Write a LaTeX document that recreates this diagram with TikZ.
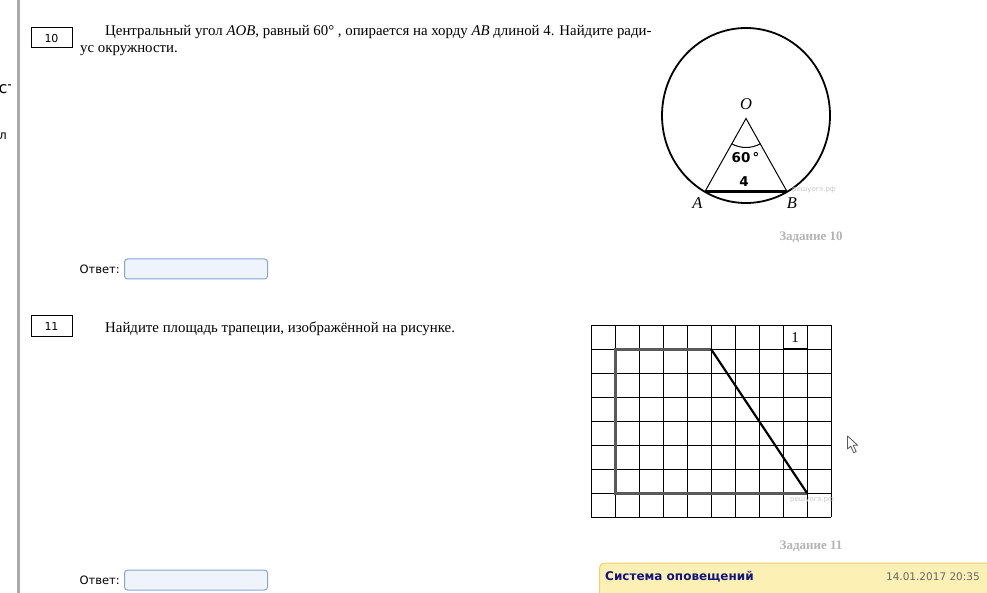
\documentclass[tikz,border=0pt]{standalone}
\usepackage{fontspec}
\setmainfont{Liberation Serif}
\setsansfont{DejaVu Sans}
\usetikzlibrary{positioning}

\definecolor{sidegray}{RGB}{170,170,170}
\definecolor{capgray}{RGB}{180,180,180}
\definecolor{wmgray}{RGB}{200,200,200}
\definecolor{fieldfill}{RGB}{238,243,252}
\definecolor{fieldline}{RGB}{135,165,215}
\definecolor{notefill}{RGB}{253,240,180}
\definecolor{noteline}{RGB}{240,208,110}
\definecolor{notetext}{RGB}{20,20,125}
\definecolor{trapgray}{RGB}{90,90,90}

\tikzset{
  numbox/.style={draw, line width=1pt, minimum width=41pt, minimum height=20pt, inner sep=0pt,
    font=\sffamily\fontsize{11}{12}\selectfont},
  qtext/.style={anchor=base west, inner sep=0pt, font=\fontsize{14.85}{17}\selectfont},
  answer/.style={anchor=east, inner sep=0pt, font=\sffamily\fontsize{11.5}{13}\selectfont},
  field/.style={draw=fieldline, fill=fieldfill, rounded corners=3pt, line width=1pt,
    minimum width=143pt, minimum height=20pt, inner sep=0pt},
  zadanie/.style={text=capgray, inner sep=0pt, font=\bfseries\fontsize{13}{15}\selectfont},
  watermark/.style={text=wmgray, inner sep=0pt, anchor=west, font=\sffamily\fontsize{7}{8}\selectfont},
  ptlabel/.style={inner sep=0pt, font=\itshape\fontsize{16.5}{18}\selectfont},
  anglabel/.style={inner sep=0pt, font=\sffamily\bfseries\fontsize{13.5}{15}\selectfont},
  gridline/.style={line width=1pt, black},
}

\begin{document}
\begin{tikzpicture}[x=1pt, y=1pt]
\clip (0,0) rectangle (987,-593);
\fill[white] (0,0) rectangle (987,-593);

%%%%% Left edge %%%%%
\draw[sidegray, line width=3pt] (18.5,0) -- (18.5,-593);
\begin{scope}
\clip (0,0) rectangle (10,-593);
\node[anchor=west, inner sep=0pt, font=\sffamily\fontsize{16}{18}\selectfont] (edge1) at (-1.5,-89) {ст};
\node[anchor=west, inner sep=0pt, font=\sffamily\fontsize{12}{14}\selectfont] (edge2) at (-1,-136) {л};
\end{scope}

%%%%% Task 10 %%%%%
\node[numbox] (num10) at (51.5,-38) {10};
\node[qtext] (q10a) at (105,-35.5) {Центральный угол \textit{AOB}, равный 60° , опирается на хорду \textit{AB} длиной 4. Найдите ради-};
\node[qtext] (q10b) at (80,-52.5) {ус окружности.};

\coordinate (O) at (746,-118.5);
\coordinate (A) at (705,-191.5);
\coordinate (B) at (787,-191.5);
\draw[line width=1.8pt] (746,-115.5) ellipse [x radius=84pt, y radius=87.5pt];
\draw[line width=1pt] (A) -- (O) -- (B);
\draw[line width=2.5pt] (A) -- (B);
\draw[line width=1pt] (O) ++(240:29) arc[start angle=240, end angle=300, radius=29pt];
\node[ptlabel] (labO) at (746,-104) {O};
\node[anglabel] (ang) at (745.5,-157.5) {60\,°};
\node[anglabel] (len) at (744,-182) {4};
\node[ptlabel] (labA) at (697.5,-203) {A};
\node[ptlabel] (labB) at (792,-203) {B};
\node[watermark] (wm10) at (792,-190) {решуогэ.рф};
\node[zadanie] (cap10) at (811,-237) {Задание 10};

\node[answer] (ans10) at (120,-269) {Ответ:};
\node[field, right=4pt of ans10] (field10) {};

%%%%% Task 11 %%%%%
\node[numbox] (num11) at (51.5,-326) {11};
\node[qtext] (q11) at (105,-332) {Найдите площадь трапеции, изображённой на рисунке.};

\foreach \i in {0,...,10}{
\draw[gridline] (591+24*\i,-325) -- (591+24*\i,-517);
}
\foreach \j in {0,...,8}{
\draw[gridline] (591,-325-24*\j) -- (831,-325-24*\j);
}
\coordinate (P1) at (615,-349);
\coordinate (P2) at (711,-349);
\coordinate (P3) at (807,-493);
\coordinate (P4) at (615,-493);
\draw[trapgray, line width=3pt] (P2) -- (P1) -- (P4) -- (P3);
\draw[line width=2.2pt] (P2) -- (P3);
\node[inner sep=0pt, font=\fontsize{15}{16}\selectfont] (unit) at (795,-338) {1};
\draw[line width=2.2pt] (783,-349) -- (807,-349);
\node[watermark] (wm11) at (790,-500) {решуогэ.рф};
\node[zadanie] (cap11) at (811,-546) {Задание 11};

\node[answer] (ans11) at (120,-580) {Ответ:};
\node[field, right=4pt of ans11] (field11) {};

%%%%% Cursor %%%%%
\draw[fill=white, draw=black!65, line width=0.8pt, line join=round] (847.5,-436) -- ++(0,-13) -- ++(3.2,2.8)
  -- ++(3,-6.5) -- ++(2.5,1.1) -- ++(-3,6.3) -- ++(4.5,0) -- cycle;

%%%%% Notification %%%%%
\draw[fill=notefill, draw=noteline, line width=1pt, rounded corners=5pt] (599.5,-563) rectangle (1000,-620);
\node[anchor=west, inner sep=0pt, text=notetext, font=\sffamily\bfseries\fontsize{12}{14}\selectfont] (note) at (605,-576.5) {Система оповещений};
\node[anchor=east, inner sep=0pt, text=black!60, font=\sffamily\fontsize{10.5}{12}\selectfont] (date) at (980,-577) {14.01.2017 20:35};

\end{tikzpicture}
\end{document}
